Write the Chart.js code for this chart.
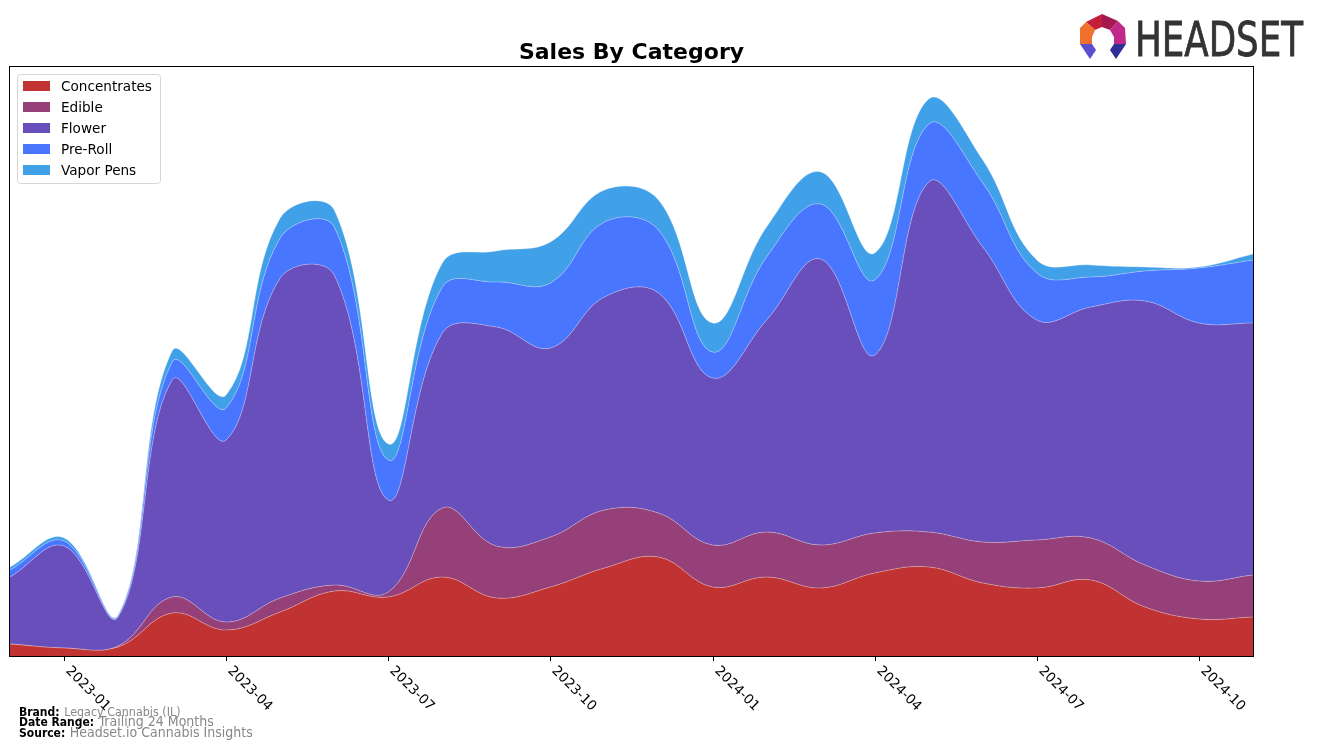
<!doctype html>
<html>

<head>
    <title>Sales By Category</title>
    <script src="https://cdn.jsdelivr.net/npm/chart.js@4.4.1/dist/chart.umd.min.js"></script>
    <style>
    body {
        margin: 0;
        background: #fff;
    }
    #wrap {
        position: relative;
        width: 1317px;
        height: 747px;
        font-family: "DejaVu Sans", sans-serif;
    }
    #canvas {
        position: absolute;
        left: 0;
        top: 0;
    }
    .foot {
        position: absolute;
        left: 19px;
        white-space: nowrap;
        font-family: "DejaVu Sans Condensed", "DejaVu Sans", sans-serif;
        font-stretch: condensed;
        line-height: 1;
    }
    .foot b {
        color: #000;
        font-size: 12px;
    }
    .foot span {
        color: #888;
    }
    #logo {
        position: absolute;
        left: 1076px;
        top: 12px;
    }
    </style>
</head>

<body>
    <div id="wrap">
        <canvas id="canvas" width="1317" height="747"></canvas>
        <div class="foot" style="top:703px"><b>Brand:</b> <span style="font-size:12.4px">Legacy Cannabis (IL)</span></div>
        <div class="foot" style="top:713px"><b>Date Range:</b> <span style="font-size:14px">Trailing 24 Months</span></div>
        <div class="foot" style="top:724px"><b>Source:</b> <span style="font-size:14px">Headset.io Cannabis Insights</span></div>
        <svg id="logo" width="235" height="52" viewBox="1076 12 235 52">
            <polygon points="1086,22 1102,14 1102,27 1095,30" fill="#c41f3a"/>
            <polygon points="1102,14 1118,21 1110,30 1102,27" fill="#a3184e"/>
            <polygon points="1080,28 1086,22 1095,30 1092,37 1092,44 1080,44" fill="#f0702e"/>
            <polygon points="1118,21 1125,28 1126,44 1114,44 1114,37 1110,30" fill="#c0288a"/>
            <polygon points="1080,44 1092,44 1096,50 1090,59" fill="#5b4fd0"/>
            <polygon points="1114,44 1126,44 1116,59 1110,50" fill="#2e2e96"/>
            <text x="1135" y="56" font-size="48" textLength="168" lengthAdjust="spacingAndGlyphs" fill="#333" stroke="#333" stroke-width="0.8" font-family="Liberation Sans Narrow, DejaVu Sans Condensed, sans-serif">HEADSET</text>
        </svg>
    </div>
    <script>
    // months shown on the x axis (one point per month)
    var months = ['2022-12', '2023-01', '2023-02', '2023-03', '2023-04', '2023-05', '2023-06', '2023-07',
        '2023-08', '2023-09', '2023-10', '2023-11', '2023-12', '2024-01', '2024-02', '2024-03',
        '2024-04', '2024-05', '2024-06', '2024-07', '2024-08', '2024-09', '2024-10', '2024-11'];

    // which months get a tick + label
    var tickLabels = ['2023-01', '2023-04', '2023-07', '2023-10', '2024-01', '2024-04', '2024-07', '2024-10'];

    // sales per category (no axis values in the original, units are relative)
    var concentrates = [12, 8, 9, 43, 26, 44, 65, 59, 79, 58, 69, 88, 99, 69, 79, 68, 83, 89, 73, 68, 76, 49, 37, 39];
    var edible = [0, 0, 1, 16, 8, 14, 6, 5, 69, 52, 50, 58, 44, 42, 45, 43, 40, 35, 41, 48, 42, 42, 38, 42];
    var flower = [67, 102, 29, 217, 182, 320, 310, 92, 175, 219, 189, 213, 220, 167, 212, 286, 178, 350, 295, 220, 231, 264, 258, 252];
    var preRoll = [7, 5, 1, 18, 32, 40, 48, 40, 46, 45, 65, 75, 63, 26, 63, 55, 75, 58, 64, 47, 30, 30, 55, 63];
    var vaporPens = [3, 3, 1, 11, 13, 20, 17, 16, 24, 31, 41, 32, 30, 29, 30, 32, 27, 25, 23, 13, 12, 4, 1, 6];

    var categories = ['Concentrates', 'Edible', 'Flower', 'Pre-Roll', 'Vapor Pens'];
    var colors = ['#c13232', '#96407a', '#694fbb', '#4876ff', '#40a0e8'];
    var series = [concentrates, edible, flower, preRoll, vaporPens];

    var datasets = series.map(function(values, i) {
        return {
            label: categories[i],
            data: values,
            backgroundColor: colors[i],
            borderColor: 'rgba(255,255,255,0.3)',
            borderWidth: 1,
            pointRadius: 0,
            tension: 0.4,
            fill: i === 0 ? 'origin' : '-1'
        };
    });

    var FONT = '"DejaVu Sans", sans-serif';

    // title, frame, ticks and legend drawn by hand to match the matplotlib look
    var decorPlugin = {
        id: 'decor',
        afterDraw: function(chart) {
            var ctx = chart.ctx;
            var area = chart.chartArea;
            var xs = chart.scales.x;
            ctx.save();

            // title
            ctx.fillStyle = '#000';
            ctx.font = 'bold 22px ' + FONT;
            ctx.textAlign = 'center';
            ctx.textBaseline = 'alphabetic';
            ctx.fillText('Sales By Category', (area.left + area.right) / 2, 59);

            // frame
            ctx.strokeStyle = '#000';
            ctx.lineWidth = 1;
            ctx.strokeRect(Math.round(area.left) - 0.5, Math.round(area.top) - 0.5,
                Math.round(area.right - area.left) + 1, Math.round(area.bottom - area.top) + 1);

            // x ticks, labels rotated down-right
            ctx.font = '13.6px ' + FONT;
            ctx.textAlign = 'left';
            ctx.textBaseline = 'top';
            tickLabels.forEach(function(lbl) {
                var x = Math.round(xs.getPixelForValue(months.indexOf(lbl))) + 0.5;
                ctx.beginPath();
                ctx.moveTo(x, area.bottom);
                ctx.lineTo(x, area.bottom + 5);
                ctx.stroke();
                ctx.save();
                ctx.translate(x + 8, area.bottom + 8);
                ctx.rotate(Math.PI / 4);
                ctx.fillText(lbl, 0, 0);
                ctx.restore();
            });

            // legend box
            var lx = 17.5, ly = 74.5, lw = 143, lh = 109, r = 3;
            ctx.beginPath();
            ctx.moveTo(lx + r, ly);
            ctx.arcTo(lx + lw, ly, lx + lw, ly + lh, r);
            ctx.arcTo(lx + lw, ly + lh, lx, ly + lh, r);
            ctx.arcTo(lx, ly + lh, lx, ly, r);
            ctx.arcTo(lx, ly, lx + lw, ly, r);
            ctx.closePath();
            ctx.fillStyle = 'rgba(255,255,255,0.8)';
            ctx.fill();
            ctx.strokeStyle = '#d6d6d6';
            ctx.stroke();

            ctx.textBaseline = 'middle';
            categories.forEach(function(name, i) {
                var cy = 86 + i * 21;
                ctx.fillStyle = colors[i];
                ctx.fillRect(23, cy - 5, 27, 10);
                ctx.fillStyle = '#000';
                ctx.fillText(name, 61, cy + 1);
            });
            ctx.restore();
        }
    };

    var config = {
        type: 'line',
        data: {
            labels: months,
            datasets: datasets
        },
        options: {
            responsive: false,
            animation: false,
            devicePixelRatio: 1,
            layout: {
                padding: { left: 10, right: 64, top: 67, bottom: 91 }
            },
            plugins: {
                legend: { display: false },
                title: { display: false },
                tooltip: { enabled: false }
            },
            scales: {
                x: {
                    display: false,
                    offset: false
                },
                y: {
                    display: false,
                    stacked: true,
                    min: 0,
                    max: 589
                }
            }
        },
        plugins: [decorPlugin]
    };

    window.onload = function() {
        window.myChart = new Chart(document.getElementById('canvas'), config);
    };
    </script>
</body>

</html>
